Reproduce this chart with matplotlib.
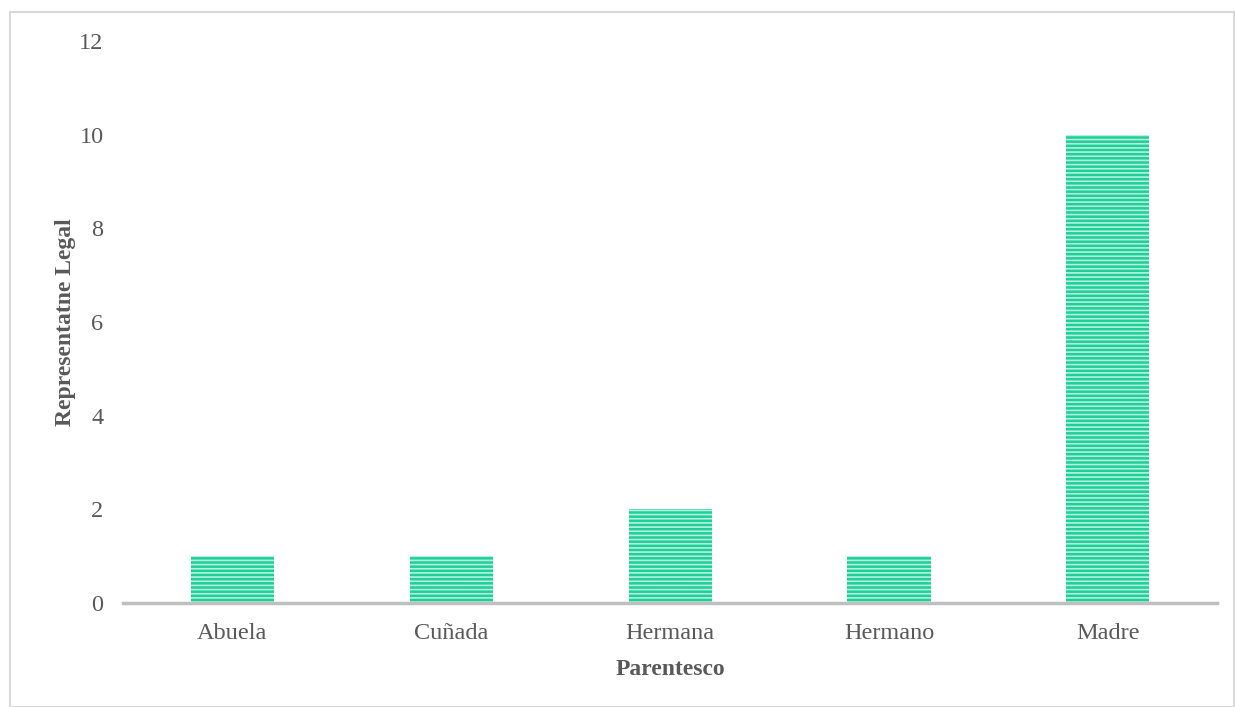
import matplotlib.pyplot as plt
from matplotlib.patches import Rectangle

# data
categorias = ['Abuela', 'Cuñada', 'Hermana', 'Hermano', 'Madre']
valores = [1, 1, 2, 1, 10]
yticks = [0, 2, 4, 6, 8, 10, 12]

plt.rcParams['font.family'] = ['Liberation Serif', 'DejaVu Serif']
plt.rcParams['hatch.linewidth'] = 1.2

fig = plt.figure(figsize=(12.35, 7.07), dpi=100)
ax = fig.add_axes([0.0996, 0.147, 0.886, 0.795])

# outer border of the chart area
fig.patches.append(Rectangle((10 / 1235, 0), 1224 / 1235, 1 - 12 / 707,
                             transform=fig.transFigure, fill=False,
                             edgecolor='#d9d9d9', linewidth=1.5))

x = range(len(categorias))
ax.bar(x, valores, width=0.38, color='#1fcf98', edgecolor='#b5f2dd',
       hatch='----', linewidth=0)

ax.set_xlim(-0.5, len(categorias) - 0.5)
ax.set_ylim(0, 12)
ax.set_yticks(yticks)
ax.set_xticks(list(x))
ax.set_xticklabels(categorias)

for s in ['top', 'right', 'left']:
    ax.spines[s].set_visible(False)
ax.spines['bottom'].set_color('#bfbfbf')
ax.spines['bottom'].set_linewidth(2.5)
ax.tick_params(axis='both', length=0, labelsize=17.5, labelcolor='#595959')
ax.tick_params(axis='y', pad=14)
ax.tick_params(axis='x', pad=14)

ax.set_xlabel('Parentesco', fontsize=17, fontweight='bold', color='#595959', labelpad=11)
ax.set_ylabel('Representatne Legal', fontsize=17, fontweight='bold', color='#595959', labelpad=2)

fig.savefig('out.png', dpi=100)
